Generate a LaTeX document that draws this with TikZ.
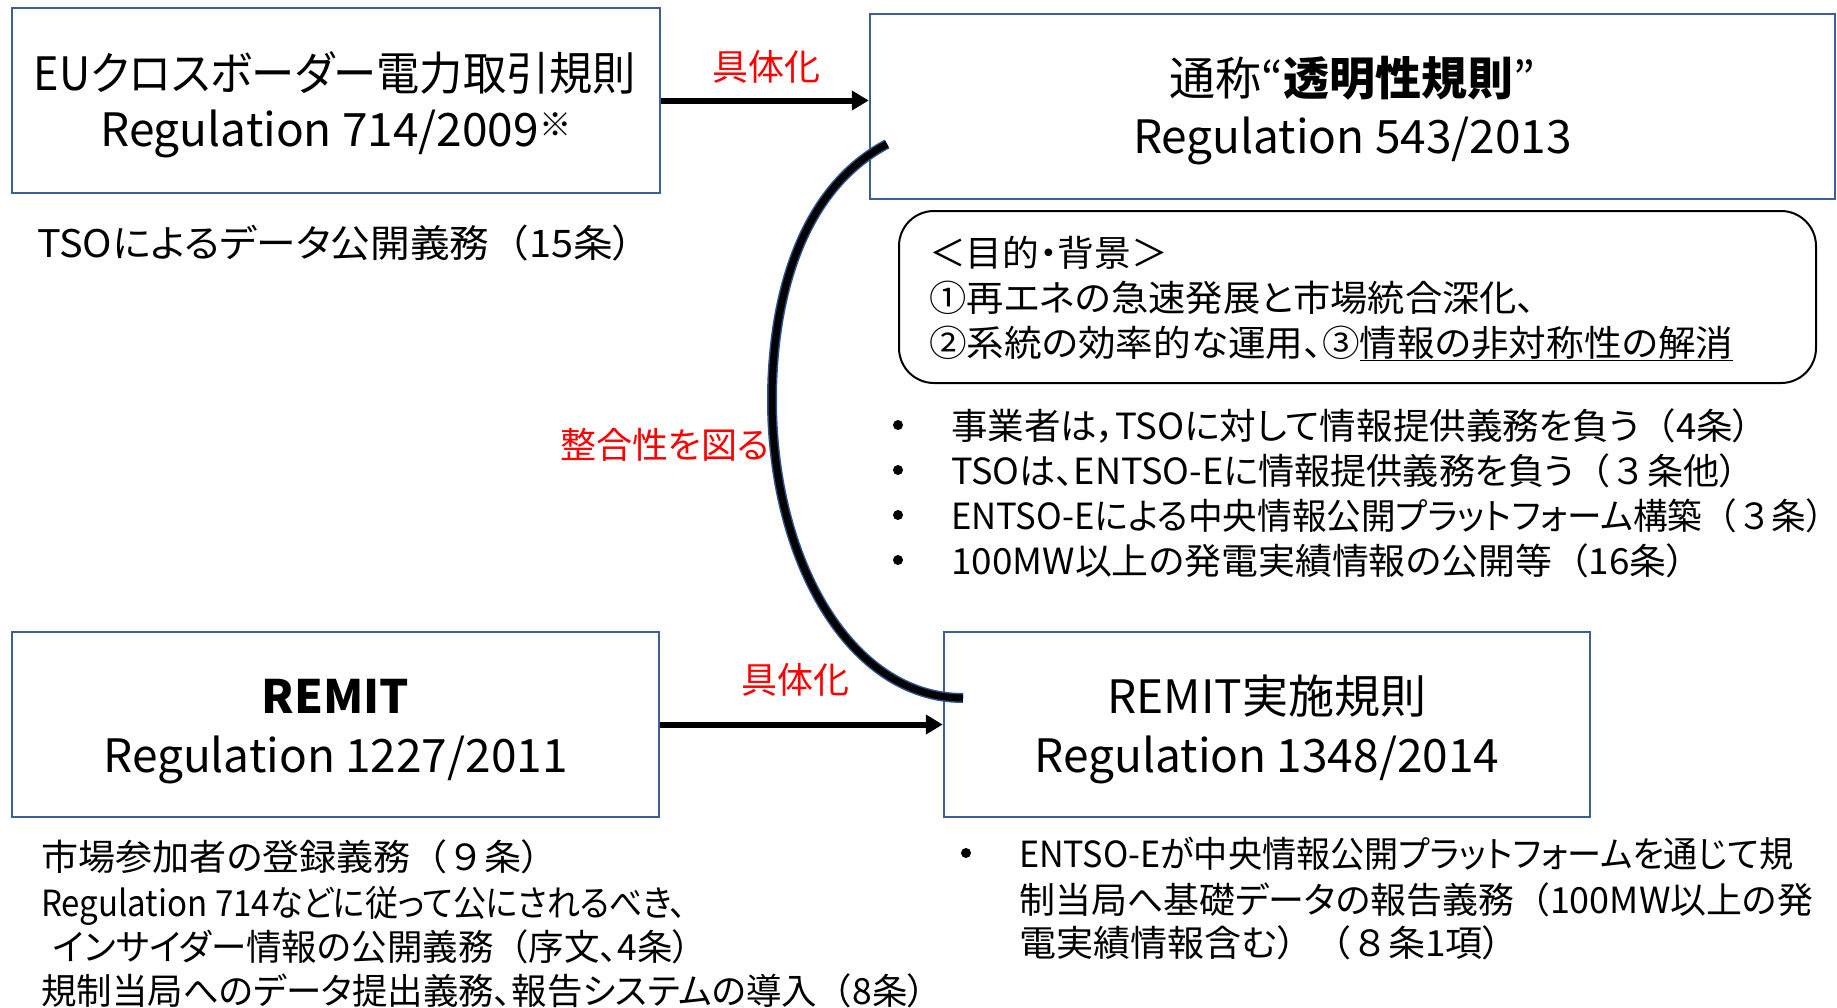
\documentclass[tikz,border=0pt]{standalone}
\usepackage{fontspec}
\usepackage{graphicx}
\setmainfont{Noto Sans CJK JP}[RawFeature={+palt}]
\newfontfamily\fwfont{Noto Sans CJK JP}
\newcommand\fw[1]{{\fwfont #1}}
\newcommand\sx[2]{\scalebox{#1}[1]{#2}}
\usetikzlibrary{arrows.meta}
\definecolor{boxblue}{RGB}{60,95,155}
\definecolor{curveblue}{RGB}{47,82,143}
\definecolor{lblred}{RGB}{255,0,0}
\begin{document}
\begin{tikzpicture}[x=1pt,y=-1pt,
  regbox/.style={draw=boxblue, line width=2.5pt, fill=white, minimum width=#1, minimum height=185pt, inner sep=0pt},
  btxt/.style={anchor=base, inner sep=0pt, font=\fontsize{46}{57}\selectfont},
  line/.style={anchor=base west, inner sep=0pt, font=\fontsize{36}{45}\selectfont},
  redlbl/.style={inner sep=0pt, text=lblred, font=\fontsize{36}{45}\selectfont},
  dot/.style={circle, fill=black, inner sep=0pt, minimum size=10pt},
  arr/.style={line width=6pt, -{Triangle[length=17pt,width=19pt]}},
  swoosh/.style={line width=7pt, black, preaction={draw=curveblue, line width=10pt}}]
\useasboundingbox (0,0) rectangle (1837,1007);

% boxes
\node[regbox=648pt] (b1) at (336,100.5) {};
\node[regbox=965pt] (b2) at (1352.5,106.5) {};
\node[regbox=647pt] (b3) at (335.5,724.5) {};
\node[regbox=646pt] (b4) at (1267,724.5) {};

\node[btxt] (b1a) at (335,90) {\sx{0.94}{EUクロスボーダー電力取引規則}};
\node[btxt] (b1b) at (336,146) {Regulation 714/2009\textsuperscript{※}};
\node[btxt] (b2a) at (1352.5,95) {通称“\textbf{透明性規則}”};
\node[btxt] (b2b) at (1352.5,153) {Regulation 543/2013};
\node[btxt] (b3a) at (335.5,713) {\textbf{REMIT}};
\node[btxt] (b3b) at (335.5,772) {Regulation 1227/2011};
\node[btxt] (b4a) at (1267,713) {REMIT実施規則};
\node[btxt] (b4b) at (1267,772) {Regulation 1348/2014};

% purpose box
\node[draw, line width=2pt, rounded corners=35pt, minimum width=917pt, minimum height=172pt] (rb) at (1357.5,297) {};
\node[line] (rb1) at (929,266) {\sx{1.02}{＜目的・背景＞}};
\node[line] (rb2) at (929,311) {\sx{1.036}{①再エネの急速発展と市場統合深化、}};
\node[line] (rb3) at (929,356) {\sx{1.045}{②系統の効率的な運用、③\underline{情報の非対称性の解消}}};

% TSO text
\node[line, font=\fontsize{38}{45}\selectfont] (tso) at (37,257) {\sx{1.045}{TSOによるデータ公開義務\fw{（}15条）}};

% bullets (543/2013)
\node[dot] (d1) at (898,425) {};
\node[dot] (d2) at (898,470) {};
\node[dot] (d3) at (898,515) {};
\node[dot] (d4) at (898,560) {};
\node[line] (t1) at (951,439) {\sx{1.015}{事業者は，TSOに対して情報提供義務を負う\fw{（}4条）}};
\node[line] (t2) at (951,484) {\sx{1.004}{TSOは、ENTSO-Eに情報提供義務を負う\fw{（３}条他）}};
\node[line] (t3) at (951,529) {\sx{0.962}{ENTSO-Eによる中央情報公開プラットフォーム構築\fw{（３}条）}};
\node[line] (t4) at (951,574) {\sx{1.025}{100MW以上の発電実績情報の公開等\fw{（}16条）}};

% bottom left text
\node[line] (r1) at (41,870) {\sx{1.03}{市場参加者の登録義務\fw{（９}条）}};
\node[line] (r2) at (41,916) {\sx{0.918}{Regulation 714などに従って公にされるべき、}};
\node[line] (r3) at (53,960) {\sx{0.985}{インサイダー情報の公開義務\fw{（}序文、4条）}};
\node[line] (r4) at (41,1004) {\sx{0.985}{規制当局へのデータ提出義務、報告システムの導入\fw{（}8条）}};

% bottom right text
\node[dot] (d5) at (966,853) {};
\node[line] (s1) at (1019,867) {\sx{0.948}{ENTSO-Eが中央情報公開プラットフォームを通じて規}};
\node[line] (s2) at (1019,913) {\sx{0.998}{制当局へ基礎データの報告義務\fw{（}100MW以上の発}};
\node[line] (s3) at (1019,956) {\sx{1.03}{電実績情報含む\fw{）（８}条1項）}};

% labels
\node[redlbl] (l1) at (766,67) {具体化};
\node[redlbl] (l2) at (795,680) {具体化};
\node[redlbl] (l3) at (665,445) {整合性を図る};

% arrows
\draw[arr] (b1.east) -- (b1.east -| b2.west);
\draw[arr] (b3.east) -- (b4.west);

% consistency curve
\coordinate (c1) at (887,144);
\coordinate (cm) at (772,400);
\coordinate (c2) at (963,698);
\draw[swoosh] (c1) .. controls (800,190) and (772,300) .. (cm) .. controls (772,560) and (850,698) .. (c2);
\end{tikzpicture}
\end{document}
